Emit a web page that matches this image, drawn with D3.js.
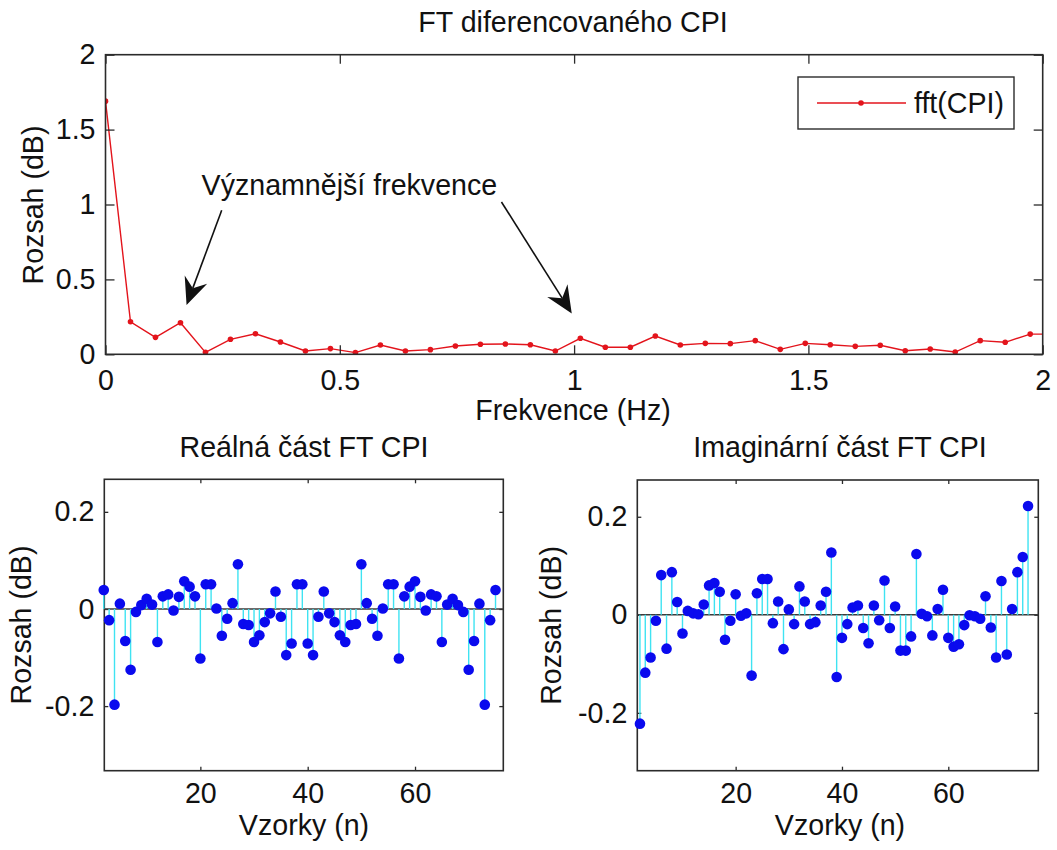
<!DOCTYPE html>
<html>
<head>
<meta charset="utf-8">
<script src="https://cdn.jsdelivr.net/npm/d3@7"></script>
<style>
  body { margin: 0; background: #fff; }
  svg { display: block; }
  text { font-family: "Liberation Sans", Arial, sans-serif; fill: #111; }
</style>
</head>
<body>
<svg id="chart" width="1057" height="850"></svg>
<script>
// Magnitude spectrum of the differenced CPI, bins k = 0..38 (fs = 4, N = 75)
const sampleRate = 4;
const fftLength = 75;
const fftMag = [1.69, 0.217, 0.113, 0.211, 0.013, 0.100, 0.137, 0.082, 0.022, 0.038,
  0.011, 0.062, 0.022, 0.031, 0.055, 0.067, 0.069, 0.064, 0.022, 0.107,
  0.047, 0.047, 0.122, 0.062, 0.073, 0.071, 0.091, 0.033, 0.073, 0.064,
  0.053, 0.060, 0.024, 0.035, 0.015, 0.091, 0.080, 0.135, 0.135];

// Real and imaginary parts of FFT bins 1..74, plotted at samples 2..75
const firstSample = 2;
const realPart = [0.039, -0.023, -0.197, 0.011, -0.066, -0.125, -0.006, 0.008, 0.021, 0.009,
  -0.068, 0.026, 0.030, -0.003, 0.025, 0.057, 0.046, 0.026, -0.102, 0.051,
  0.051, 0.001, -0.055, -0.020, 0.012, 0.092, -0.031, -0.033, -0.068, -0.054,
  -0.027, -0.009, 0.036, -0.016, -0.095, -0.071, 0.051, 0.051, -0.071, -0.095,
  -0.016, 0.036, -0.009, -0.027, -0.054, -0.068, -0.033, -0.031, 0.092, 0.012,
  -0.020, -0.055, 0.001, 0.051, 0.051, -0.102, 0.026, 0.046, 0.057, 0.025,
  -0.003, 0.030, 0.026, -0.068, 0.009, 0.021, 0.008, -0.006, -0.125, -0.066,
  0.011, -0.197, -0.023, 0.039];
const imagPart = [-0.222, -0.118, -0.087, -0.012, 0.081, -0.069, 0.087, 0.026, -0.038, 0.008,
  0.003, 0.001, 0.021, 0.060, 0.065, 0.047, -0.051, -0.012, 0.042, -0.002,
  0.003, -0.124, 0.044, 0.073, 0.073, -0.017, 0.027, -0.070, 0.011, -0.019,
  0.058, 0.027, -0.019, -0.015, 0.019, 0.047, 0.127, -0.127, -0.047, -0.019,
  0.015, 0.019, -0.027, -0.058, 0.019, -0.011, 0.070, -0.027, 0.017, -0.073,
  -0.073, -0.044, 0.124, 0.002, -0.003, -0.042, 0.012, 0.051, -0.047, -0.065,
  -0.060, -0.021, -0.001, -0.003, -0.008, 0.038, -0.026, -0.087, 0.069, -0.081,
  0.012, 0.087, 0.118, 0.222];

// Tick values
const freqTicks = [0, 0.5, 1, 1.5, 2];
const magTicks = [0, 0.5, 1, 1.5, 2];
const sampleTicks = [20, 40, 60];
const partTicks = [-0.2, 0, 0.2];

// Annotation pointing at the notable frequencies (data coordinates)
const noteText = "Významnější frekvence";
const noteAnchor = [0.205, 1.062];
const noteArrows = [
  { from: [0.248, 0.962], to: [0.173, 0.329] },
  { from: [0.845, 1.017], to: [0.995, 0.273] }
];

const svg = d3.select("#chart");
const AX = "#2b2b2b";
const FONT = 28.6;

// Framed axes with inward ticks on all four sides
function frame(g, x, y, xt, yt, tick, xfmt, yfmt, labelPad) {
  const [x0, x1] = x.range();
  const [y0, y1] = y.range(); // y0 bottom, y1 top
  const W = x1 - x0, H = y0 - y1;
  const bottom = g.append("g").attr("transform", `translate(0,${y0})`)
    .call(d3.axisBottom(x).tickValues(xt).tickSize(-tick).tickSizeOuter(0)
      .tickPadding(labelPad.x).tickFormat(xfmt));
  const top = g.append("g").attr("transform", `translate(0,${y1})`)
    .call(d3.axisTop(x).tickValues(xt).tickSize(-tick).tickSizeOuter(0).tickFormat(""));
  const left = g.append("g").attr("transform", `translate(${x0},0)`)
    .call(d3.axisLeft(y).tickValues(yt).tickSize(-tick).tickSizeOuter(0)
      .tickPadding(labelPad.y).tickFormat(yfmt));
  const right = g.append("g").attr("transform", `translate(${x1},0)`)
    .call(d3.axisRight(y).tickValues(yt).tickSize(-tick).tickSizeOuter(0).tickFormat(""));
  [bottom, top, left, right].forEach(a => {
    a.select(".domain").remove();
    a.selectAll(".tick line").attr("stroke", AX).attr("stroke-width", 1.3);
    a.selectAll(".tick text").attr("font-size", FONT).attr("fill", "#111")
      .attr("font-family", '"Liberation Sans", Arial, sans-serif');
  });
  g.append("rect").attr("x", x0).attr("y", y1).attr("width", W).attr("height", H)
    .attr("fill", "none").attr("stroke", AX).attr("stroke-width", 1.6);
}

function numFmt(d) { return d3.format("")(d).replace("−", "-"); }

// ---------- Top panel: magnitude spectrum ----------
const xF = d3.scaleLinear().domain([0, 2]).range([105.5, 1042.7]);
const yF = d3.scaleLinear().domain([0, 2]).range([354.3, 54.7]);
const topG = svg.append("g");

topG.append("defs").append("clipPath").attr("id", "clipTop")
  .append("rect").attr("x", xF(0)).attr("y", yF(2))
  .attr("width", xF(2) - xF(0)).attr("height", yF(0) - yF(2));

const spec = fftMag.map((v, k) => ({ f: k * sampleRate / fftLength, v }));
const plotTop = topG.append("g").attr("clip-path", "url(#clipTop)");
plotTop.append("path").datum(spec)
  .attr("d", d3.line().x(d => xF(d.f)).y(d => yF(d.v)))
  .attr("fill", "none").attr("stroke", "#e3141c").attr("stroke-width", 1.4);
plotTop.selectAll("circle").data(spec).join("circle")
  .attr("cx", d => xF(d.f)).attr("cy", d => yF(d.v)).attr("r", 2.8)
  .attr("fill", "#e3141c");

frame(topG, xF, yF, freqTicks, magTicks, 9, numFmt, numFmt, { x: 15, y: 10 });

svg.append("text").attr("x", 573).attr("y", 32).attr("text-anchor", "middle")
  .attr("font-size", FONT).text("FT diferencovaného CPI");
svg.append("text").attr("x", 573).attr("y", 420).attr("text-anchor", "middle")
  .attr("font-size", FONT).text("Frekvence (Hz)");
svg.append("text").attr("transform", "translate(43,205) rotate(-90)")
  .attr("text-anchor", "middle").attr("font-size", FONT).text("Rozsah (dB)");

// Legend
const lg = svg.append("g");
lg.append("rect").attr("x", 798).attr("y", 77).attr("width", 216).attr("height", 52)
  .attr("fill", "#fff").attr("stroke", AX).attr("stroke-width", 1.4);
lg.append("line").attr("x1", 817).attr("x2", 906).attr("y1", 103).attr("y2", 103)
  .attr("stroke", "#e3141c").attr("stroke-width", 1.4);
lg.append("circle").attr("cx", 861).attr("cy", 103).attr("r", 2.8).attr("fill", "#e3141c");
lg.append("text").attr("x", 914).attr("y", 113).attr("font-size", FONT).text("fft(CPI)");

// Annotation text and arrows
svg.append("text").attr("x", xF(noteAnchor[0])).attr("y", yF(noteAnchor[1]))
  .attr("font-size", FONT).text(noteText);
noteArrows.forEach(a => {
  const x1 = xF(a.from[0]), y1 = yF(a.from[1]);
  const x2 = xF(a.to[0]), y2 = yF(a.to[1]);
  const ang = Math.atan2(y2 - y1, x2 - x1);
  const headLen = 27, halfW = 12, notch = 9;
  const ux = Math.cos(ang), uy = Math.sin(ang);
  const px = -uy, py = ux;
  const bx = x2 - ux * headLen, by = y2 - uy * headLen;
  const nx = x2 - ux * (headLen - notch), ny = y2 - uy * (headLen - notch);
  svg.append("line").attr("x1", x1).attr("y1", y1).attr("x2", nx).attr("y2", ny)
    .attr("stroke", "#111").attr("stroke-width", 1.6);
  svg.append("path")
    .attr("d", `M${x2},${y2}L${bx + px * halfW},${by + py * halfW}L${nx},${ny}L${bx - px * halfW},${by - py * halfW}Z`)
    .attr("fill", "#111");
});

// ---------- Bottom panels: stem plots ----------
function stemPanel(values, xr, yr, xd, yd, title, titleX, ylabX) {
  const x = d3.scaleLinear().domain(xd).range(xr);
  const y = d3.scaleLinear().domain(yd).range(yr);
  const g = svg.append("g");
  const pts = values.map((v, i) => ({ n: firstSample + i, v }));
  frame(g, x, y, sampleTicks, partTicks, 4, numFmt, numFmt, { x: 12, y: 10 });
  g.append("line").attr("x1", x.range()[0]).attr("x2", x.range()[1])
    .attr("y1", y(0)).attr("y2", y(0)).attr("stroke", "#3a3a3a").attr("stroke-width", 1.6);
  g.selectAll("line.stem").data(pts).join("line").attr("class", "stem")
    .attr("x1", d => x(d.n)).attr("x2", d => x(d.n))
    .attr("y1", y(0)).attr("y2", d => y(d.v))
    .attr("stroke", "#3fe3f2").attr("stroke-width", 1.4);
  g.selectAll("circle").data(pts).join("circle")
    .attr("cx", d => x(d.n)).attr("cy", d => y(d.v)).attr("r", 5.3)
    .attr("fill", "#0a0aee");
  svg.append("text").attr("x", titleX).attr("y", 457).attr("text-anchor", "middle")
    .attr("font-size", FONT).text(title);
  svg.append("text").attr("x", titleX).attr("y", 835).attr("text-anchor", "middle")
    .attr("font-size", FONT).text("Vzorky (n)");
  svg.append("text").attr("transform", `translate(${ylabX},${(yr[0] + yr[1]) / 2}) rotate(-90)`)
    .attr("text-anchor", "middle").attr("font-size", FONT).text("Rozsah (dB)");
}

stemPanel(realPart, [104.3, 503.3], [770.7, 479.3], [2.1, 76.45], [-0.333, 0.267],
  "Reálná část FT CPI", 304, 31);
stemPanel(imagPart, [637.3, 1038.3], [770.7, 480], [1.5, 76.93], [-0.318, 0.275],
  "Imaginární část FT CPI", 840, 561);
</script>
</body>
</html>
